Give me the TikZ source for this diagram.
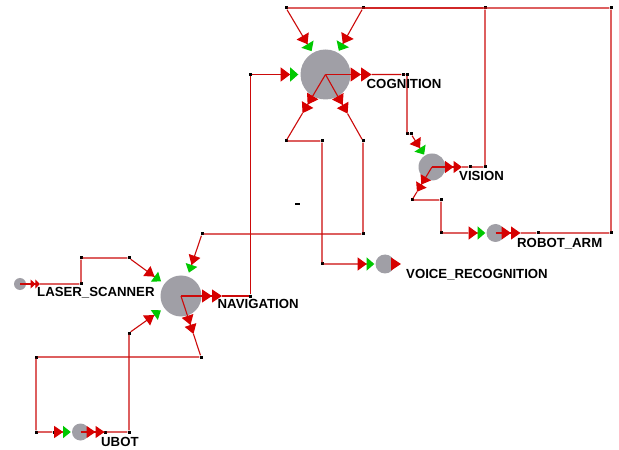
\documentclass[tikz,border=0pt]{standalone}
\usepackage{fontspec}
\newfontfamily\lblfont{Liberation Sans}
\usetikzlibrary{arrows.meta,calc}

\definecolor{compgray}{RGB}{160,159,166}
\definecolor{wirered}{RGB}{204,10,10}
\definecolor{tipred}{RGB}{214,0,0}
\definecolor{portgreen}{RGB}{0,200,0}

\begin{document}
\begin{tikzpicture}[x=1bp,y=-1bp,
   comp/.style={circle,fill=compgray,inner sep=0pt,minimum size=#1},
   dot/.style={fill=black,inner sep=0pt,minimum size=3bp},
   lbl/.style={font=\lblfont\bfseries\fontsize{13.2bp}{15bp}\selectfont,anchor=base west,inner sep=0pt},
   wire/.style={draw=wirered,line width=1.1bp},
   intip/.style n args={3}{-{Triangle[length=#1,width=#2,sep=0pt,color=tipred,fill=tipred]
      Triangle[length=#1,width=#2,scale length=0.85,sep=0pt,color=portgreen,fill=portgreen]},shorten >=#3},
   outtip/.style 2 args={-{Triangle[length=#1,width=#2,sep=0pt,color=tipred,fill=tipred]
      Triangle[length=#1,width=#2,sep=0pt,color=tipred,fill=tipred]}}]
  \path[fill=white,use as bounding box] (0,0) rectangle (619,450);

  % components
  \node[comp=50bp] (cog) at (325.5,74.5) {};
  \node[comp=41bp] (nav) at (181,296) {};
  \node[comp=27bp] (vis) at (432,167) {};
  \node[comp=18bp] (arm) at (495.5,233) {};
  \node[comp=19bp] (voice) at (385,264) {};
  \node[comp=17bp] (ubot) at (80.5,432) {};
  \node[comp=12bp] (laser) at (20,284) {};

  % bend points
  \foreach \n/\x/\y in {t1/286/8,t2/363/8,t3/485/8,t4/611/8,
      a1/538/233,a2/611/233,
      v1/470/167,v2/485/167,v3/412/200,v4/441/200,v5/441/233,v6/470/233,
      c1/403/74.5,c2/407/74.5,c3/407/134,c4/411/134,
      c5/286/141,c6/322/141,c7/322/264,c8/360/264,
      c9/363/141,c10/363/234,c11/202/234,
      n1/250.5/296,n2/250.5/74.5,
      n3/201/357,n4/36/357,n5/36/432,n6/54/432,
      u1/105/432,u2/129/432,u3/129/333,
      l1/81/284,l2/81/258,l3/129/258}
    \node[dot] (\n) at (\x,\y) {};
  \fill (294.5,203) rectangle (299.5,205.5);

  % output ends
  \coordinate (cogR) at ($(cog)!46bp!(c1)$);
  \coordinate (cogBL) at ($(cog)!45bp!(c5)$);
  \coordinate (cogBR) at ($(cog)!45bp!(c9)$);
  \coordinate (navR) at ($(nav)!41bp!(n1)$);
  \coordinate (navB) at ($(nav)!40bp!(n3)$);
  \coordinate (visR) at ($(vis)!30bp!(v1)$);
  \coordinate (visB) at ($(vis)!29bp!(v3)$);
  \coordinate (armR) at ($(arm)!25bp!(a1)$);
  \coordinate (ubotR) at ($(ubot)!24bp!(u1)$);
  \coordinate (laserR) at ($(laser)!20bp!(l1)$);
  \coordinate (voiceS) at ($(voice)+(6,0)$);
  \coordinate (voiceR) at ($(voice)+(16,0)$);

  \draw[wire,outtip={10.5bp}{14bp}] (cog.center) -- (cogR);
  \draw[wire,outtip={10bp}{13bp}] (cog.center) -- (cogBL);
  \draw[wire,outtip={10bp}{13bp}] (cog.center) -- (cogBR);
  \draw[wire,outtip={10bp}{13bp}] (nav.center) -- (navR);
  \draw[wire,outtip={9.5bp}{12bp}] (nav.center) -- (navB);
  \draw[wire,outtip={8.5bp}{12bp}] (vis.center) -- (visR);
  \draw[wire,outtip={8.5bp}{12bp}] (vis.center) -- (visB);
  \draw[wire,outtip={9.5bp}{13bp}] (arm.center) -- (armR);
  \draw[wire,outtip={9bp}{12bp}] (ubot.center) -- (ubotR);
  \draw[wire,outtip={4.7bp}{9bp}] (laser.center) -- (laserR);
  \draw[wire,-{Triangle[length=10bp,width=13bp,color=tipred,fill=tipred]}] (voiceS) -- (voiceR);

  % links
  \draw[wire,intip={9.5bp}{14bp}{2bp}] (armR) -- (a1) -- (a2) -- (t4) -- (t1) -- (cog);
  \draw[wire,intip={9.5bp}{14bp}{2bp}] (visR) -- (v1) -- (v2) -- (t3) -- (t2) -- (cog);
  \draw[wire,intip={9.5bp}{14bp}{2bp}] (navR) -- (n1) -- (n2) -- (cog);
  \draw[wire,intip={9bp}{13bp}{1bp}] (cogR) -- (c1) -- (c2) -- (c3) -- (c4) -- (vis);
  \draw[wire,intip={9bp}{13bp}{1bp}] (cogBL) -- (c5) -- (c6) -- (c7) -- (c8) -- (voice);
  \draw[wire,intip={9.5bp}{12bp}{4bp}] (cogBR) -- (c9) -- (c10) -- (c11) -- (nav);
  \draw[wire,intip={9bp}{13bp}{1bp}] (visB) -- (v3) -- (v4) -- (v5) -- (v6) -- (arm);
  \draw[wire,intip={9bp}{12bp}{1bp}] (navB) -- (n3) -- (n4) -- (n5) -- (n6) -- (ubot);
  \draw[wire,intip={9.5bp}{12bp}{4bp}] (ubotR) -- (u1) -- (u2) -- (u3) -- (nav);
  \draw[wire,intip={9.5bp}{12bp}{4bp}] (laserR) -- (l1) -- (l2) -- (l3) -- (nav);

  % labels
  \node[lbl] (cogl) at (366.5,88.5) {COGNITION};
  \node[lbl] (navl) at (217.5,309) {NAVIGATION};
  \node[lbl] (laserl) at (37,297) {LASER\_SCANNER};
  \node[lbl] (ubotl) at (101,446) {UBOT};
  \node[lbl] (visl) at (459,180.5) {VISION};
  \node[lbl] (arml) at (517,248) {ROBOT\_ARM};
  \node[lbl] (voicel) at (406,279) {VOICE\_RECOGNITION};
\end{tikzpicture}
\end{document}
